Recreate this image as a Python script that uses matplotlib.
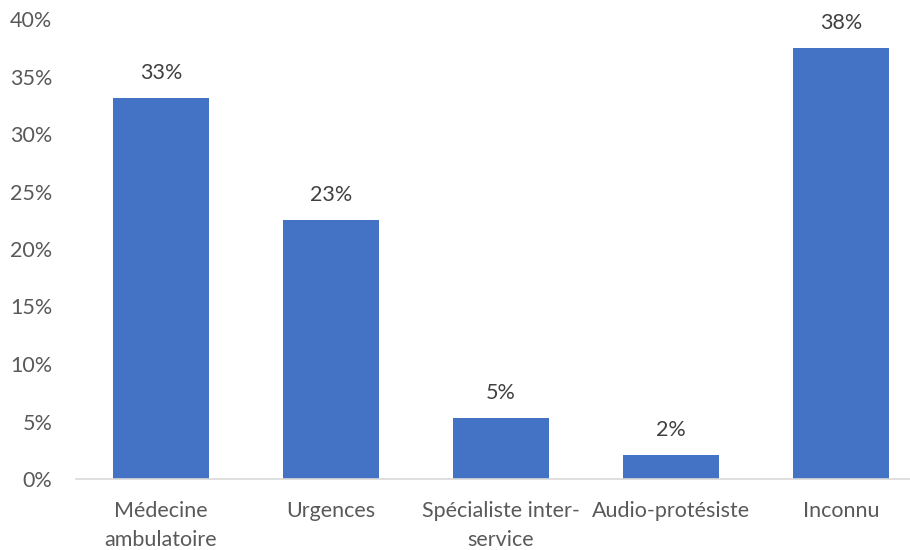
import numpy
from matplotlib import pyplot

categories = ["Médecine\nambulatoire", "Urgences", "Spécialiste inter-\nservice",
              "Audio-protésiste", "Inconnu"]
shares = [33.1, 22.5, 5.3, 2.1, 37.5]
labels = ["33%", "23%", "5%", "2%", "38%"]
yticks = [0, 5, 10, 15, 20, 25, 30, 35, 40]

pyplot.rcParams["font.family"] = ["Lato", "DejaVu Sans"]

fig = pyplot.figure(figsize=(9.1, 5.5), dpi=100)
# plot area in pixels: left 76, right 910, bottom 479, top 19
ax = fig.add_axes([76 / 910, (550 - 479) / 550, (910 - 76) / 910, 460 / 550])

x = numpy.arange(len(categories))
bars = ax.bar(x, shares, width=0.57, color="#4472C4", zorder=2)
for bar, text in zip(bars, labels):
    ax.text(bar.get_x() + bar.get_width() / 2, bar.get_height() + 1.3, text,
            ha="center", va="bottom", fontsize=15.5, color="#404040")

ax.set_xlim(-0.5, -0.5 + 834 / 170)
ax.set_ylim(0, 40)
ax.set_yticks(yticks)
ax.set_yticklabels([f"{t}%" for t in yticks])
ax.set_xticks(x)
ax.set_xticklabels(categories, linespacing=1.55)

ax.tick_params(axis="both", length=0, labelsize=15.5, labelcolor="#595959")
ax.tick_params(axis="x", pad=16)
ax.tick_params(axis="y", pad=17)
for side in ("top", "right", "left"):
    ax.spines[side].set_visible(False)
ax.spines["bottom"].set_color("#D9D9D9")
ax.spines["bottom"].set_linewidth(1.2)

fig.savefig("out.png", dpi=100)
